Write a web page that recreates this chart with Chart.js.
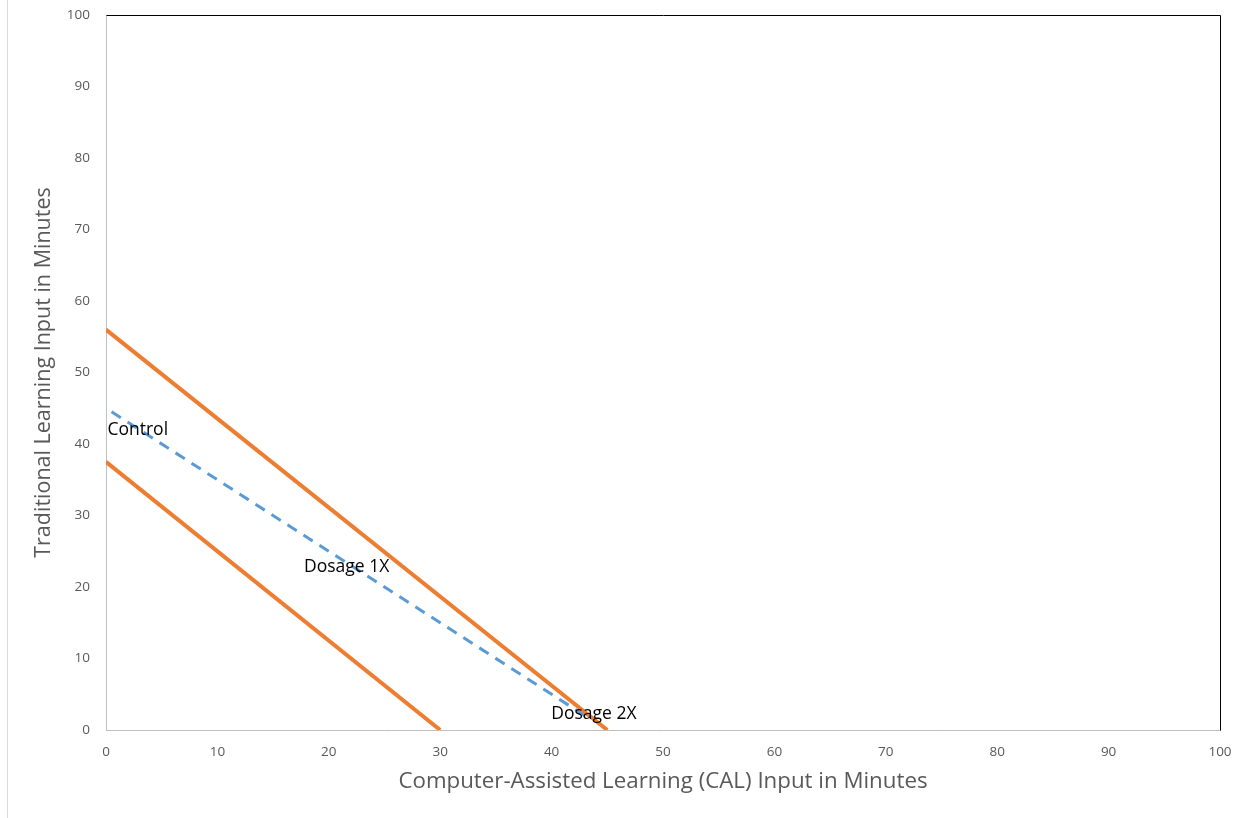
<!DOCTYPE html>
<html>
<head>
<meta charset="utf-8">
<script src="https://cdn.jsdelivr.net/npm/chart.js@4.4.1/dist/chart.umd.min.js"></script>
<style>
  html, body { margin: 0; padding: 0; background: #fff; }
  #wrap { position: relative; width: 1252px; height: 818px; }
  #edge { position: absolute; left: 7px; top: 0; height: 818px; border-left: 1px solid #d9d9d9; }
</style>
</head>
<body>
<div id="wrap">
  <div id="edge"></div>
  <canvas id="chart" width="1252" height="818"></canvas>
</div>
<script>
"use strict";

// Line endpoints (minutes)
const dosageHighX = [0, 45];
const dosageHighY = [56, 0];
const dosageLowX = [0, 30];
const dosageLowY = [37.5, 0];
const controlX = [0.5, 43.5];
const controlY = [44.5, 1.5];

// Text labels placed in data space
const noteText = ['Control', 'Dosage 1X', 'Dosage 2X'];
const noteX = [2.85, 21.6, 43.8];
const noteY = [42, 22.8, 2.2];

const axisTicks = [0, 10, 20, 30, 40, 50, 60, 70, 80, 90, 100];

function toPoints(xs, ys) {
    return xs.map((x, i) => ({ x: x, y: ys[i] }));
}

// Black top and right edges of the plot frame
const frameEdges = {
    id: 'frameEdges',
    afterDraw(chart) {
        const { ctx, chartArea: a } = chart;
        ctx.save();
        ctx.strokeStyle = '#000';
        ctx.lineWidth = 1;
        ctx.beginPath();
        ctx.moveTo(Math.round(a.left) + 0.5, Math.round(a.top) + 0.5);
        ctx.lineTo(Math.round(a.right) + 0.5, Math.round(a.top) + 0.5);
        ctx.lineTo(Math.round(a.right) + 0.5, Math.round(a.bottom) + 0.5);
        ctx.stroke();
        ctx.restore();
    }
};

// Free text notes, positioned with the chart's own scales
const notes = {
    id: 'notes',
    afterDatasetsDraw(chart) {
        const { ctx, scales } = chart;
        ctx.save();
        ctx.font = '17.5px "Open Sans"';
        ctx.fillStyle = '#000';
        ctx.textAlign = 'center';
        ctx.textBaseline = 'middle';
        noteText.forEach((t, i) => {
            ctx.fillText(t, scales.x.getPixelForValue(noteX[i]), scales.y.getPixelForValue(noteY[i]));
        });
        ctx.restore();
    }
};

new Chart(document.getElementById('chart'), {
    type: 'scatter',
    data: {
        datasets: [
            {
                label: 'Dosage high',
                data: toPoints(dosageHighX, dosageHighY),
                showLine: true,
                borderColor: '#ED7D31',
                borderWidth: 4,
                pointRadius: 0
            },
            {
                label: 'Dosage low',
                data: toPoints(dosageLowX, dosageLowY),
                showLine: true,
                borderColor: '#ED7D31',
                borderWidth: 4,
                pointRadius: 0
            },
            {
                label: 'Control',
                data: toPoints(controlX, controlY),
                showLine: true,
                borderColor: '#5B9BD5',
                borderWidth: 3,
                borderDash: [11, 8],
                pointRadius: 0
            }
        ]
    },
    options: {
        responsive: false,
        animation: false,
        layout: { padding: { top: 15, right: 32, left: 0, bottom: 0 } },
        plugins: {
            legend: { display: false },
            tooltip: { enabled: false }
        },
        scales: {
            x: {
                type: 'linear',
                min: 0,
                max: 100,
                afterBuildTicks: function(scale) {
                    scale.ticks = axisTicks.map(v => ({ value: v }));
                },
                afterFit: function(scale) { scale.height = 88; },
                grid: { display: false, drawTicks: false },
                border: { color: '#bfbfbf', width: 1 },
                ticks: {
                    color: '#595959',
                    font: { family: '"Open Sans"', size: 13.5 },
                    padding: 14,
                    maxRotation: 0
                },
                title: {
                    display: true,
                    text: 'Computer-Assisted Learning (CAL) Input in Minutes',
                    color: '#595959',
                    font: { family: '"Open Sans"', size: 22.3 },
                    padding: { top: 0, bottom: 23 }
                }
            },
            y: {
                type: 'linear',
                min: 0,
                max: 100,
                afterBuildTicks: function(scale) {
                    scale.ticks = axisTicks.map(v => ({ value: v }));
                },
                afterFit: function(scale) {
                    scale.width = 106;
                    scale.paddingTop = 0;
                    scale.paddingBottom = 0;
                },
                grid: { display: false, drawTicks: false },
                border: { color: '#bfbfbf', width: 1 },
                ticks: {
                    color: '#595959',
                    font: { family: '"Open Sans"', size: 13.5 },
                    padding: 16
                },
                title: {
                    display: true,
                    text: 'Traditional Learning Input in Minutes',
                    color: '#595959',
                    font: { family: '"Open Sans"', size: 21.5 },
                    padding: { top: 31, bottom: 0 }
                }
            }
        }
    },
    plugins: [frameEdges, notes]
});
</script>
</body>
</html>
